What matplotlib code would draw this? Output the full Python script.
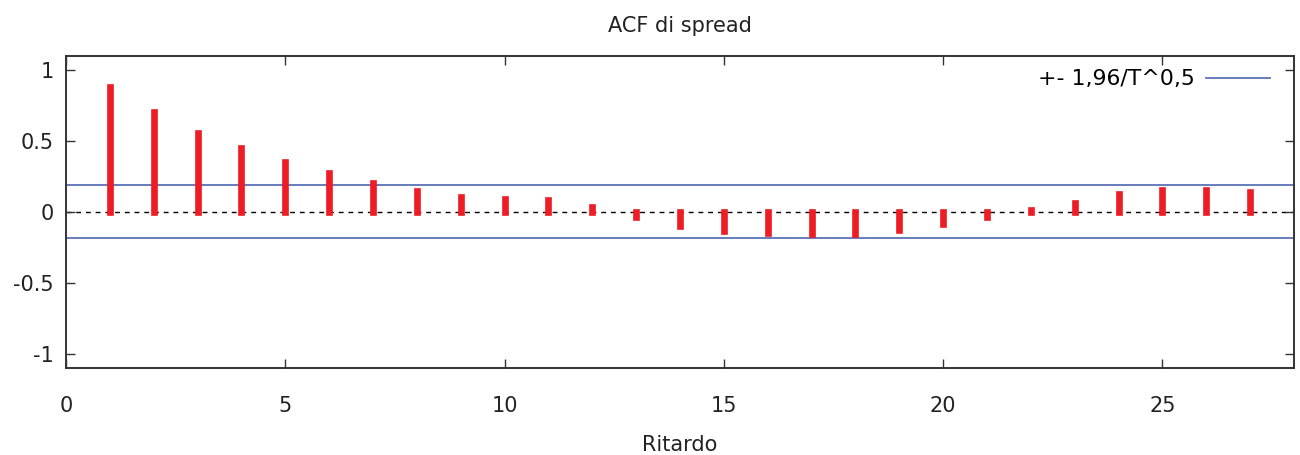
import matplotlib
matplotlib.use("Agg")
import matplotlib.pyplot as plt
import numpy as np

lags = list(range(1, 28))
acf = [0.878, 0.702, 0.556, 0.449, 0.354, 0.275, 0.204, 0.146, 0.106, 0.089,
       0.080, 0.035, -0.036, -0.100, -0.132, -0.148, -0.158, -0.158, -0.127,
       -0.083, -0.038, 0.015, 0.063, 0.125, 0.157, 0.153, 0.143]
band = 0.1877
xticks = [0, 5, 10, 15, 20, 25]
yticks = [-1, -0.5, 0, 0.5, 1]
ytick_labels = ["-1", "-0.5", "0", "0.5", "1"]

plt.rcParams['font.family'] = ['DejaVu Sans']
fig = plt.figure(figsize=(13, 4.55), dpi=100)
ax = fig.add_axes([66/1300, 1-368/455, (1294-66)/1300, (368-55.7)/455])

ax.set_xlim(0, 28)
ax.set_ylim(-1.1, 1.1)

ax.axhline(0, color='black', lw=1.0, ls=(0, (3.5, 3.5)), zorder=1)
vl = ax.vlines(lags, 0, acf, color='#ee1c25', lw=4.8, zorder=3)
vl.set_capstyle('projecting')
ln, = ax.plot([0, 28], [band, band], color='#5a72b8', lw=1.3, zorder=2, label='+- 1,96/T^0,5')
ax.plot([0, 28], [-band, -band], color='#5a72b8', lw=1.3, zorder=2)

leg = ax.legend(handles=[ln], loc='upper right', markerfirst=False, frameon=False,
                fontsize=15.8, handlelength=2.9, handletextpad=0.55,
                bbox_to_anchor=(0.993, 1.005), borderaxespad=0.3)

ax.set_xticks(xticks)
ax.set_yticks(yticks)
ax.set_yticklabels(ytick_labels)
ax.tick_params(direction='in', length=6.5, width=1.0, color='#333333',
               top=True, right=True, labelsize=15, labelcolor='#222222')
ax.tick_params(axis='x', pad=20)
ax.tick_params(axis='y', pad=9)
for s in ax.spines.values():
    s.set_color('#333333')
    s.set_linewidth(1.4)

ax.set_title('ACF di spread', fontsize=15, color='#222222', pad=17)
ax.set_xlabel('Ritardo', fontsize=15, color='#222222', labelpad=14)

fig.savefig('out.png', dpi=100)
